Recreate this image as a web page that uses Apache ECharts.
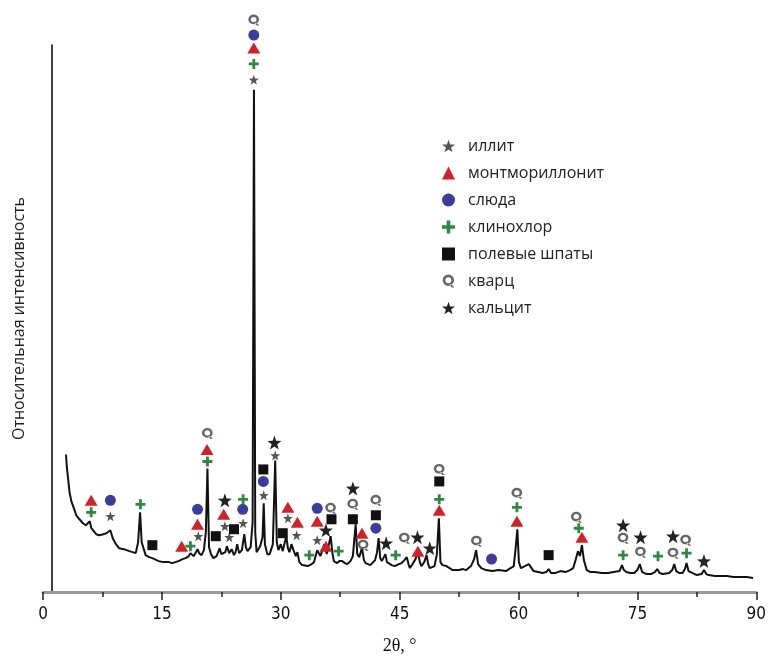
<!DOCTYPE html>
<html>
<head>
<meta charset="utf-8">
<title>XRD</title>
<script src="https://cdn.jsdelivr.net/npm/echarts@6.0.0/dist/echarts.min.js"></script>
<style>
  html, body { margin: 0; padding: 0; background: #fff; }
  .chart { width: 769px; height: 660px; }
</style>
</head>
<body>
<div class="chart"></div>
<script>
// дифрактограмма: [2θ, интенсивность]
var pattern = [
  [2.9,138],[3.0,126],[3.16,114],[3.35,100],[3.58,91],[3.9,84],[4.2,77],[4.6,73],[5.04,69],[5.4,67],
  [5.9,71],[6.1,64],[6.3,62],[6.7,58],[7.1,57],[7.6,58],[8.0,59],[8.5,62],[8.8,54],[9.2,48],
  [9.6,44],[10.2,43],[10.9,41],[11.3,40],[11.7,39],[12.0,50],[12.25,80],[12.45,50],[12.95,37],[13.4,35],
  [13.8,34],[14.6,31],[15.2,30],[15.9,30],[16.3,29],[17.1,31],[17.6,33],[18.0,34],[18.4,36],[18.6,39],
  [19.0,36],[19.3,40],[19.5,43],[19.7,39],[20.0,37],[20.3,42],[20.55,60],[20.75,124],[20.95,45],[21.2,38],
  [21.5,34],[21.9,36],[22.3,44],[22.5,38],[22.75,36],[23.0,40],[23.2,46],[23.5,39],[23.8,43],[24.1,37],
  [24.3,40],[24.5,48],[24.75,39],[25.1,42],[25.4,58],[25.6,45],[25.8,41],[26.2,45],[26.45,70],[26.62,504],
  [26.78,60],[26.95,40],[27.1,39],[27.4,46],[27.7,55],[27.85,89],[28.0,48],[28.3,38],[28.6,38],[29.0,48],
  [29.3,132],[29.5,50],[29.7,42],[30.0,48],[30.25,41],[30.45,48],[30.7,56],[30.9,44],[31.1,40],[31.35,48],
  [31.6,42],[31.9,36],[32.1,40],[32.35,30],[32.7,27],[33.4,26],[33.9,28],[34.2,30],[34.6,42],[35.0,36],
  [35.5,48],[35.8,38],[35.95,36],[36.3,56],[36.5,40],[36.7,31],[37.1,29],[37.4,31],[37.75,31],[38.1,29],
  [38.4,28],[38.8,31],[39.1,36],[39.45,68],[39.65,38],[39.9,35],[40.25,44],[40.5,32],[40.7,29],[41.3,27],
  [41.9,32],[42.15,40],[42.35,54],[42.55,34],[42.75,31],[43.2,38],[43.4,30],[43.6,29],[44.0,27],[44.4,26],
  [44.9,28],[45.25,29],[45.6,32],[45.9,35],[46.15,27],[46.3,24],[46.7,29],[47.0,33],[47.3,40],[47.55,30],
  [47.75,26],[48.1,30],[48.4,37],[48.6,28],[48.8,24],[49.4,26],[49.7,38],[49.95,74],[50.15,30],[50.4,27],
  [50.9,26],[51.3,24],[51.7,22],[52.5,22],[53.0,23],[53.4,22],[54.0,26],[54.4,33],[54.65,42],[54.9,28],
  [55.3,24],[55.9,22],[56.7,21],[57.5,22],[58.4,21],[59.0,24],[59.4,26],[59.65,45],[59.85,63],[60.05,30],
  [60.3,24],[60.8,26],[61.3,28],[61.9,21],[62.5,20],[63.0,19],[63.5,20],[63.8,23],[64.1,19],[64.6,19],
  [65.3,21],[65.9,20],[66.5,22],[66.9,24],[67.2,32],[67.5,41],[67.75,36],[68.0,47],[68.25,32],[68.6,22],
  [69.1,20],[69.6,20],[70.5,19],[71.3,19],[72.0,20],[72.75,21],[73.05,27],[73.3,22],[73.6,20],[74.1,19],
  [74.6,19],[75.0,22],[75.3,28],[75.6,20],[76.2,18],[76.7,18],[77.2,20],[77.5,23],[77.8,19],[78.2,18],
  [79.0,19],[79.4,22],[79.65,28],[79.9,21],[80.3,19],[80.7,19],[81.0,23],[81.2,29],[81.45,21],[81.7,20],
  [82.5,17],[83.1,18],[83.4,22],[83.7,18],[84.0,17],[84.8,16],[85.5,16],[86.3,16],[87.1,15],[88.0,15],
  [88.8,15],[89.6,14]
]

// метки фаз над пиками
var illite = [[8.5,76],[19.6,56],[22.95,66],[23.5,55],[25.25,69],[26.6,514],[27.85,97],[29.3,137],[30.9,74],[32.0,57],[34.6,52]]
var montmorillonite = [[6.08,92],[17.5,46],[19.5,68],[20.7,143],[22.8,78],[26.6,546],[30.9,85],[32.1,70],[34.6,71],[35.7,46],[40.25,59],[47.3,41],[50.0,82],[59.8,71],[68.0,55]]
var mica = [[8.5,92],[19.5,83],[25.2,83],[26.6,559],[27.8,111],[34.6,84],[42.0,64],[56.6,33]]
var clinochlore = [[6.08,80],[12.3,88],[18.6,46],[20.75,131],[25.25,93],[26.6,530],[33.6,37],[37.3,41],[44.5,37],[50.0,93],[59.8,85],[67.6,64],[73.2,37],[77.6,36],[81.2,39]]
var feldspar = [[13.8,47],[21.8,56],[24.1,63],[27.8,123],[30.25,59],[36.4,73],[39.1,73],[42.0,77],[50.0,111],[63.8,37]]
var quartz = [[20.75,159],[26.6,574],[36.3,84],[39.1,88],[40.4,47],[42.0,92],[45.6,54],[50.0,123],[54.7,51],[59.8,99],[67.3,75],[73.2,54],[75.4,40],[79.5,39],[81.1,52]]
var calcite = [[22.95,92],[29.2,150],[35.7,62],[39.1,104],[43.3,49],[47.25,55],[48.8,44],[73.2,67],[75.4,55],[79.5,56],[83.4,31]]

var phaseNames = ['иллит', 'монтмориллонит', 'слюда', 'клинохлор', 'полевые шпаты', 'кварц', 'кальцит']
var xTicks = [0, 15, 30, 45, 60, 75, 90]

// значки
var starPath = 'path://M50 0 L61.76 33.82 L97.55 34.55 L69.02 56.18 L79.39 90.45 L50 70 L20.61 90.45 L30.98 56.18 L2.45 34.55 L38.24 33.82 Z'
var plusPath = 'path://M36 0 H64 V36 H100 V64 H64 V100 H36 V64 H0 V36 H36 Z'
var qPath = 'path://M8 46 A42 42 0 1 1 92 46 A42 42 0 1 1 8 46 Z M28 46 A22 22 0 1 0 72 46 A22 22 0 1 0 28 46 Z M56 80 L76 100 L94 100 L72 76 Z'

var chart = echarts.init(document.querySelector('.chart'))

function marks(name, data, symbol, size, color) {
  return {
    name: name,
    type: 'scatter',
    data: data,
    symbol: symbol,
    symbolSize: size,
    clip: false,
    z: 5,
    itemStyle: { color: color, opacity: 1 }
  }
}

var option = {
  animation: false,
  backgroundColor: '#fff',
  grid: { left: 43, right: 6, top: 45, bottom: 66 },
  legend: {
    data: phaseNames,
    orient: 'vertical',
    left: 437,
    top: 133,
    itemWidth: 13,
    itemHeight: 13,
    itemGap: 11,
    textStyle: { fontFamily: 'Open Sans', fontSize: 16, color: '#222', padding: [0, 0, 0, 8], lineHeight: 16 }
  },
  xAxis: {
    type: 'value',
    min: 0,
    max: 90,
    interval: 15,
    name: '2θ, °',
    nameLocation: 'middle',
    nameGap: 45,
    nameTextStyle: { fontFamily: 'Liberation Serif', fontSize: 18, color: '#111' },
    axisLine: { lineStyle: { color: '#999', width: 3 } },
    axisTick: { show: true, length: 8, lineStyle: { color: '#222', width: 1.5 } },
    minorTick: { show: true, splitNumber: 2, length: 5, lineStyle: { color: '#222', width: 1.5 } },
    axisLabel: {
      margin: 14,
      fontFamily: 'Liberation Sans Narrow, DejaVu Sans Condensed, sans-serif',
      fontSize: 17,
      color: '#111',
      customValues: xTicks
    },
    splitLine: { show: false }
  },
  yAxis: {
    type: 'value',
    min: 0,
    max: 549,
    offset: -9,
    name: 'Относительная интенсивность',
    nameLocation: 'middle',
    nameGap: 25,
    nameRotate: 90,
    nameTextStyle: { fontFamily: 'Open Sans', fontSize: 16, color: '#222' },
    axisLine: { show: true, lineStyle: { color: '#111', width: 1.6 } },
    axisTick: { show: false },
    axisLabel: { show: false },
    splitLine: { show: false }
  },
  series: [
    {
      name: 'pattern',
      type: 'line',
      data: pattern,
      showSymbol: false,
      symbol: 'none',
      lineStyle: { color: '#111', width: 2 },
      z: 3
    },
    marks('иллит', illite, starPath, 10, '#555'),
    marks('монтмориллонит', montmorillonite, 'triangle', [13, 11], '#d42027'),
    marks('слюда', mica, 'circle', 11, '#3a3d9c'),
    marks('клинохлор', clinochlore, plusPath, 10, '#2b8a3e'),
    marks('полевые шпаты', feldspar, 'rect', 10, '#111'),
    marks('кварц', quartz, qPath, 11, '#666'),
    marks('кальцит', calcite, starPath, 14, '#222')
  ]
}

chart.setOption(option)
</script>
</body>
</html>
